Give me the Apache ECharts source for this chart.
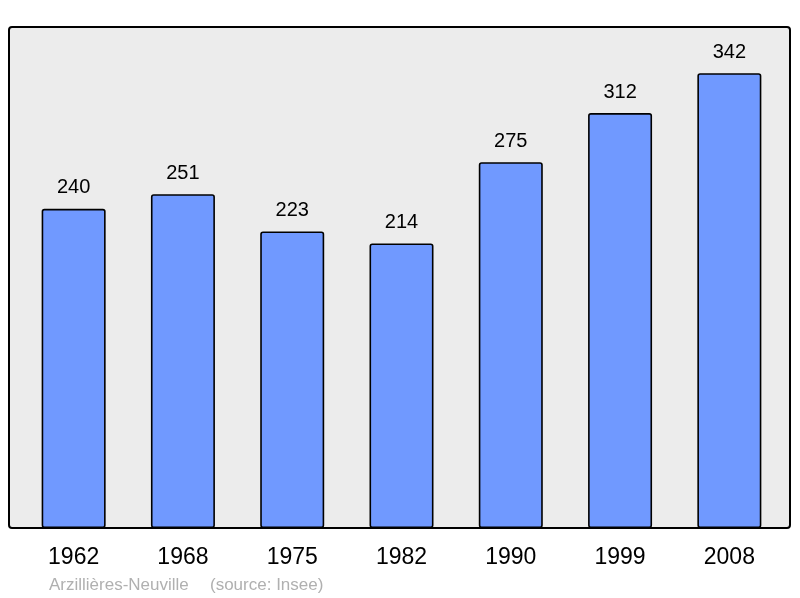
<!DOCTYPE html>
<html>
<head>
<meta charset="UTF-8">
<script src="https://cdn.jsdelivr.net/npm/echarts@6/dist/echarts.min.js"></script>
<style>
  html, body { margin: 0; padding: 0; background: #fff; }
  #chart { width: 800px; height: 598px; }
</style>
</head>
<body>
<div id="chart"></div>
<script>
const years = ['1962', '1968', '1975', '1982', '1990', '1999', '2008'];
const population = [240, 251, 223, 214, 275, 312, 342];
const town = 'Arzillières-Neuville';
const source = '(source: Insee)';

const chart = echarts.init(document.getElementById('chart'), null, { renderer: 'canvas' });
const footFont = '17px "Liberation Sans", Arial, sans-serif';

chart.setOption({
  animation: false,
  textStyle: { fontFamily: 'Liberation Sans, Arial, sans-serif' },
  graphic: [
    {
      type: 'rect',
      shape: { x: 9, y: 27, width: 781, height: 501, r: 3 },
      style: { fill: '#ececec', stroke: '#000', lineWidth: 2 },
      z: -10
    },
    {
      type: 'text',
      left: 49,
      top: 577,
      style: { text: town, fill: '#b0b0b0', font: footFont }
    },
    {
      type: 'text',
      left: 210,
      top: 577,
      style: { text: source, fill: '#b0b0b0', font: footFont }
    }
  ],
  grid: { left: 19, right: 16, top: 27, bottom: 70 },
  xAxis: {
    type: 'category',
    data: years,
    axisLine: { show: false },
    axisTick: { show: false },
    axisLabel: { color: '#000', fontSize: 23, margin: 18 }
  },
  yAxis: {
    type: 'value',
    min: 0,
    max: 376.7,
    show: false,
    splitLine: { show: false }
  },
  series: [{
    type: 'bar',
    data: population,
    barWidth: 64,
    itemStyle: {
      color: '#7099ff',
      borderColor: '#000',
      borderWidth: 1.6,
      borderRadius: 2
    },
    label: {
      show: true,
      position: 'top',
      distance: 11,
      color: '#000',
      fontSize: 20
    }
  }]
});
</script>
</body>
</html>
